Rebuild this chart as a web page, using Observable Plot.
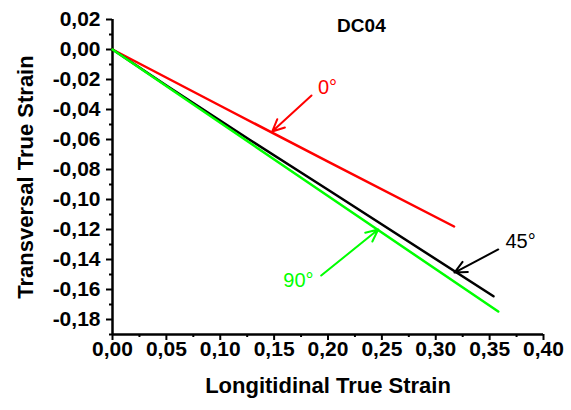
<!DOCTYPE html>
<html>
<head>
<meta charset="utf-8">
<script src="https://cdn.jsdelivr.net/npm/d3@7"></script>
<script src="https://cdn.jsdelivr.net/npm/@observablehq/plot@0.6"></script>
<style>
  html, body { margin: 0; padding: 0; background: #fff; }
</style>
</head>
<body>
<div id="chart"></div>
<script>
// Series data
const seriesNames = ["0°", "45°", "90°"];
const seriesColors = ["#ff0000", "#000000", "#00ff00"];
const x0 = [0, 0.10, 0.20, 0.317];
const y0 = [0, -0.0375, -0.0748, -0.118];
const x45 = [0, 0.05, 0.128, 0.20, 0.3536];
const y45 = [0, -0.024, -0.0605, -0.0935, -0.1645];
const x90 = [0, 0.10, 0.20, 0.358];
const y90 = [0, -0.0488, -0.0977, -0.1747];

// Ticks
const xMajor = [0, 0.05, 0.10, 0.15, 0.20, 0.25, 0.30, 0.35, 0.40];
const xMinor = [0.025, 0.075, 0.125, 0.175, 0.225, 0.275, 0.325, 0.375];
const yMajor = [0.02, 0, -0.02, -0.04, -0.06, -0.08, -0.10, -0.12, -0.14, -0.16, -0.18];
const yMinor = [0.01, -0.01, -0.03, -0.05, -0.07, -0.09, -0.11, -0.13, -0.15, -0.17, -0.19];

// Annotations
const annLabels = ["0°", "45°", "90°"];
const annTextX = [0.1995, 0.3787, 0.1726];
const annTextY = [-0.0253, -0.128, -0.154];
const arrowX1 = [0.1847, 0.358, 0.1937];
const arrowY1 = [-0.0307, -0.1333, -0.1507];
const arrowX2 = [0.1482, 0.3174, 0.2466];
const arrowY2 = [-0.0547, -0.1487, -0.1200];
const titleText = "DC04";
const titleX = 0.231, titleY = 0.016;

const seriesX = [x0, x45, x90];
const seriesY = [y0, y45, y90];
const rows = [];
seriesNames.forEach((s, i) => seriesX[i].forEach((x, j) => rows.push({series: s, x, y: seriesY[i][j]})));
const ann = annLabels.map((l, i) => ({label: l, color: seriesColors[i], tx: annTextX[i], ty: annTextY[i],
  x1: arrowX1[i], y1: arrowY1[i], x2: arrowX2[i], y2: arrowY2[i]}));
const fmt = d => d.toFixed(2).replace(".", ",");

const chart = Plot.plot({
  width: 571,
  height: 410,
  marginLeft: 112,
  marginRight: 28,
  marginTop: 19,
  marginBottom: 76,
  style: {fontFamily: "'Liberation Sans', Arial, sans-serif", fontSize: "20px", fontWeight: "bold", background: "#fff", color: "#000"},
  x: {domain: [0, 0.40]},
  y: {domain: [-0.19, 0.02]},
  color: {domain: seriesNames, range: seriesColors},
  marks: [
    Plot.axisX({ticks: xMajor, tickSize: 6, text: null, strokeWidth: 2, label: null}),
    Plot.axisX({ticks: xMinor, tickSize: 3, text: null, strokeWidth: 2, label: null}),
    Plot.axisY({ticks: yMajor, tickSize: 6, text: null, strokeWidth: 2, label: null}),
    Plot.axisY({ticks: yMinor, tickSize: 3, text: null, strokeWidth: 2, label: null}),
    Plot.text(xMajor, {x: d => d, frameAnchor: "bottom", dy: 21, text: fmt, fontSize: 21, fontWeight: "bold"}),
    Plot.text(yMajor, {y: d => d, frameAnchor: "left", dx: -12, textAnchor: "end", text: fmt, fontSize: 21, fontWeight: "bold"}),
    Plot.ruleX([0], {strokeWidth: 2.5}),
    Plot.ruleY([-0.19], {strokeWidth: 2.5}),
    Plot.line(rows, {x: "x", y: "y", z: "series", stroke: "series", strokeWidth: 2.5}),
    Plot.arrow(ann, {x1: "x1", y1: "y1", x2: "x2", y2: "y2", stroke: "color", strokeWidth: 2, headLength: 10, headAngle: 50}),
    Plot.text(ann, {x: "tx", y: "ty", text: "label", fill: "color", fontSize: 20, fontWeight: "normal"}),
    Plot.text([titleText], {x: titleX, y: titleY, text: d => d, fontSize: 19, fontWeight: "bold"}),
    Plot.text(["Longitidinal True Strain"], {frameAnchor: "bottom", dy: 58, text: d => d, fontSize: 22, fontWeight: "bold"}),
    Plot.text(["Transversal True Strain"], {frameAnchor: "left", dx: -87, rotate: -90, textAnchor: "middle", text: d => d, fontSize: 22, fontWeight: "bold"})
  ]
});
document.getElementById("chart").appendChild(chart);
</script>
</body>
</html>
